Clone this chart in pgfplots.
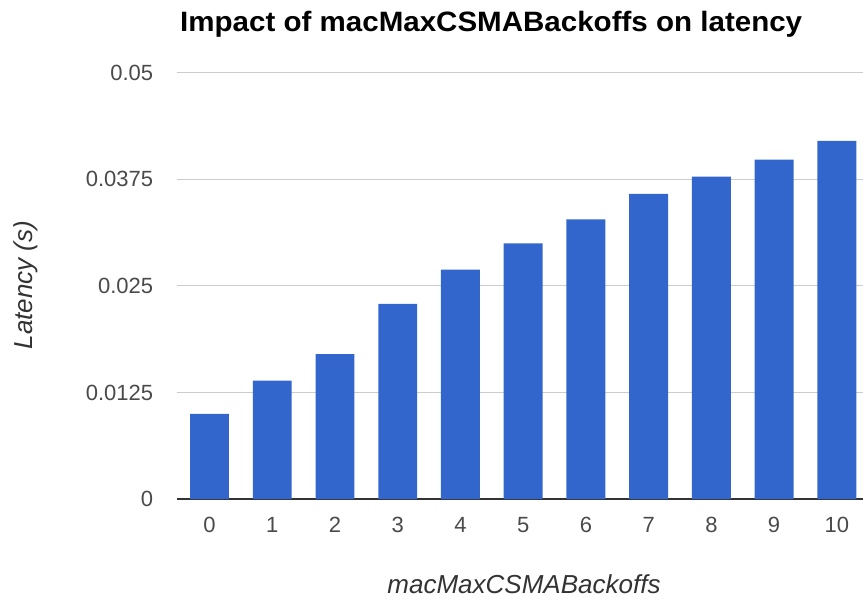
\documentclass[border=0pt]{standalone}
\usepackage{pgfplots}
\pgfplotsset{compat=1.18}
\usepackage{pgfplotstable}
\usepackage{fontspec}
\usepackage{graphicx}
\setmainfont{Liberation Sans}

\definecolor{barblue}{HTML}{3366CC}
\definecolor{gridgray}{HTML}{CCCCCC}
\definecolor{basegray}{HTML}{333333}
\definecolor{ticktext}{HTML}{4A4A4A}
\definecolor{titletext}{HTML}{333333}

% Mean latency for each value of macMaxCSMABackoffs
\pgfplotstableread{
backoffs latency
0  0.0100
1  0.0139
2  0.0170
3  0.0229
4  0.0269
5  0.0300
6  0.0328
7  0.0358
8  0.0378
9  0.0398
10 0.0420
}\latencytable

\begin{document}
\begin{tikzpicture}
\useasboundingbox (0,0) rectangle (863pt,601pt);

\begin{axis}[
  at={(176.7pt,101.9pt)}, anchor=south west,
  scale only axis,
  width=686.3pt, height=426.4pt,
  xmin=-0.523, xmax=10.417,
  ymin=0, ymax=0.05,
  scaled y ticks=false,
  axis line style={draw=none},
  major tick length=0pt,
  xtick={0,1,2,3,4,5,6,7,8,9,10},
  xticklabels={0,1,2,3,4,5,6,7,8,9,10},
  ytick={0.0125,0.025,0.0375,0.05},
  yticklabels={0.0125,0.025,0.0375,0.05},
  extra y ticks={0},
  extra y tick labels={0},
  extra y tick style={grid style={basegray, line width=1.5pt}},
  ymajorgrids,
  grid style={gridgray, line width=1pt},
  tick label style={font=\fontsize{22}{24}\selectfont, text=ticktext, inner sep=0pt},
  yticklabel style={anchor=east, xshift=-23.4pt},
  xticklabel style={anchor=north, yshift=-17.7pt},
  clip=false,
]
\addplot[ybar, bar width=0.62, fill=barblue, draw=none]
  table[x=backoffs, y=latency] {\latencytable};
\end{axis}

% Chart title
\node[anchor=base west, inner sep=0pt] at (180pt,569.3pt)
  {\resizebox{622pt}{\height}{\fontsize{28}{30}\selectfont\bfseries Impact of macMaxCSMABackoffs on latency}};

% Axis titles
\node[anchor=base, inner sep=0pt, text=titletext] at (524pt,7.7pt)
  {\fontsize{26}{28}\selectfont\itshape macMaxCSMABackoffs};
\node[anchor=base, inner sep=0pt, rotate=90, text=titletext] at (32pt,316pt)
  {\fontsize{26}{28}\selectfont\itshape Latency (s)};
\end{tikzpicture}
\end{document}
